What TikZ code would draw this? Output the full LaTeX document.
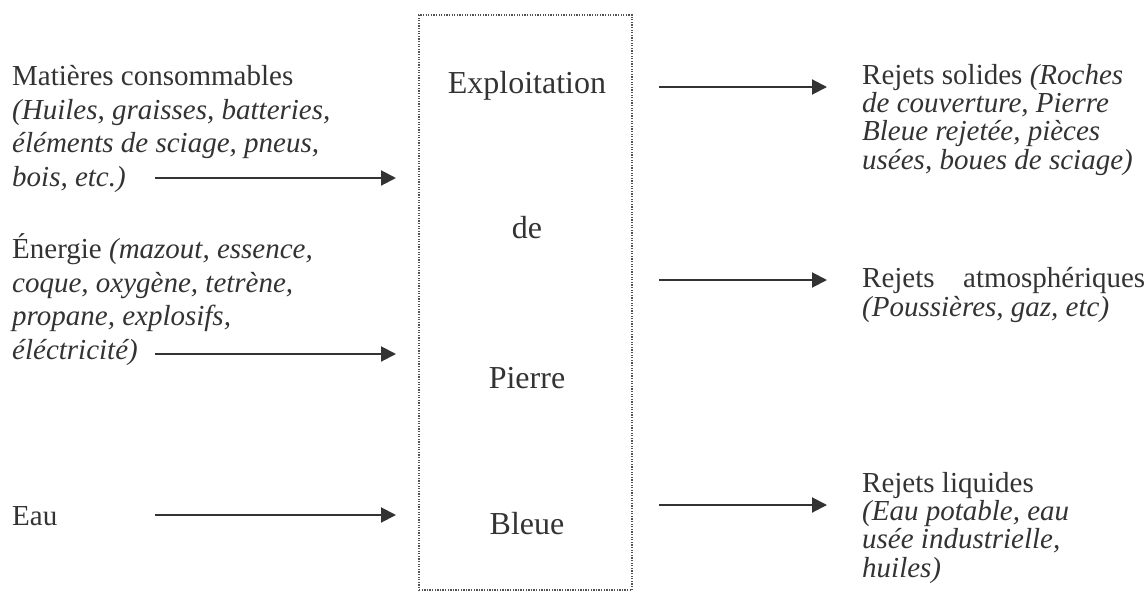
\documentclass[tikz,border=0pt]{standalone}
\usepackage{fontspec}
\setmainfont{Liberation Serif}
\usetikzlibrary{arrows.meta}
\definecolor{ink}{HTML}{333333}
\tikzset{
  lefttxt/.style={anchor=base west, inner sep=0pt, align=left, text=ink,
    font=\fontsize{29}{33.5}\selectfont},
  righttxt/.style={anchor=base west, inner sep=0pt, align=left, text=ink,
    font=\fontsize{29}{28.3}\selectfont},
  boxtxt/.style={anchor=base, inner sep=0pt, text=ink, font=\fontsize{32}{36}\selectfont},
  flow/.style={draw=ink, line width=2pt, -{Triangle[length=15pt,width=15pt]}}
}

\begin{document}
\begin{tikzpicture}[x=1pt,y=-1pt]
\useasboundingbox (0,0) rectangle (1148,594);

% the quarry
\node (box) [draw=ink!85, line width=1.3pt, dash pattern=on 1.3pt off 1.3pt,
  minimum width=213pt, minimum height=575pt, inner sep=0pt] at (525.5,302.5) {};
\node[boxtxt] (b1) at (527,93) {Exploitation};
\node[boxtxt] (b2) at (527,238) {de};
\node[boxtxt] (b3) at (527,388) {Pierre};
\node[boxtxt] (b4) at (527,534) {Bleue};

% inputs (base = last line)
\node[lefttxt] (in1) at (12,186) {Matières consommables\\
  \textit{(Huiles, graisses, batteries,}\\
  \textit{éléments de sciage, pneus,}\\
  \textit{bois, etc.)}};
\node[lefttxt] (in2) at (12,359) {Énergie \textit{(mazout, essence,}\\
  \textit{coque, oxygène, tetrène,}\\
  \textit{propane, explosifs,}\\
  \textit{éléctricité)}};
\node[lefttxt] (in3) at (12,525) {Eau};

\coordinate (v1) at (155,178);
\coordinate (v2) at (396,178);
\coordinate (v3) at (155,354);
\coordinate (v4) at (396,354);
\coordinate (v5) at (155,515);
\coordinate (v6) at (396,515);
\draw [flow] (v1) -- (v2);
\draw [flow] (v3) -- (v4);
\draw [flow] (v5) -- (v6);

% outputs
\coordinate (w1) at (659,87);
\coordinate (w2) at (827,87);
\coordinate (w3) at (659,280);
\coordinate (w4) at (827,280);
\coordinate (w5) at (659,505);
\coordinate (w6) at (827,505);
\draw [flow] (w1) -- (w2);
\draw [flow] (w3) -- (w4);
\draw [flow] (w5) -- (w6);

\node[righttxt] (out1) at (862,169) {Rejets solides \textit{(Roches}\\
  \textit{de couverture, Pierre}\\
  \textit{Bleue rejetée, pièces}\\
  \textit{usées, boues de sciage)}};
\node[righttxt] (out2) at (862,316) {\makebox[283pt][s]{Rejets atmosphériques}\\
  \textit{(Poussières, gaz, etc)}};
\node[righttxt] (out3) at (862,577) {Rejets liquides\\
  \textit{(Eau potable, eau}\\
  \textit{usée industrielle,}\\
  \textit{huiles)}};
\end{tikzpicture}
\end{document}
